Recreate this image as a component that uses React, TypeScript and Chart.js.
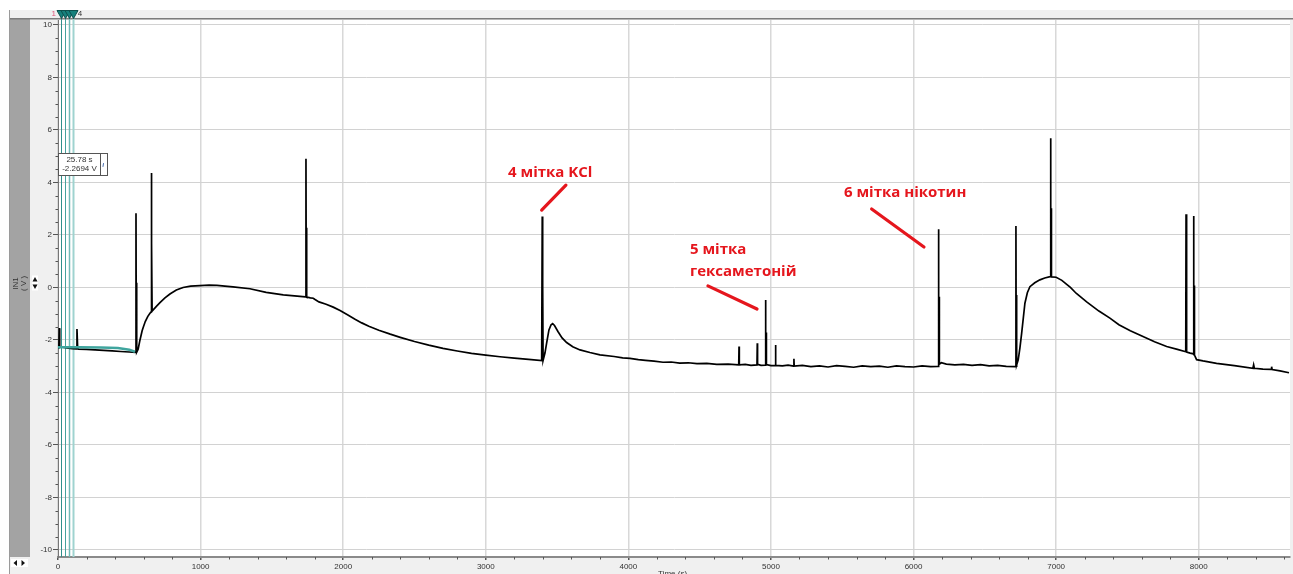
import React, { useEffect, useRef } from "react";
import { Chart, registerables } from "chart.js";

Chart.register(...registerables);

const W = 1293;
const H = 574;

// ---- data: recorded trace, [time (s), voltage (V)] ----
const trace: [number, number][] = [
  [0, -2.3], [6, -2.29], [9, -1.55], [12, -2.28], [26, -2.27], [60, -2.3], [100, -2.33], [128, -2.34],
  [133, -1.58], [138, -2.33], [145, -2.35], [200, -2.36], [260, -2.38], [320, -2.4], [380, -2.42],
  [440, -2.44], [500, -2.46], [545, -2.47],
  [547, 2.83], [549, -2.46], [551, 0.18], [553, -2.46],
  [562, -2.35], [575, -2.0], [590, -1.65], [598, -1.52], [612, -1.3], [630, -1.1], [645, -0.98], [653, -0.93],
  [654, 4.36], [656, -0.92], [658, 1.69], [660, -0.9],
  [690, -0.72], [715, -0.58], [750, -0.4], [785, -0.25], [830, -0.1], [877, 0.0], [930, 0.05], [996, 0.07],
  [1060, 0.09], [1115, 0.08], [1170, 0.05], [1227, 0.02], [1346, -0.05], [1460, -0.19], [1580, -0.28],
  [1697, -0.34], [1735, -0.36],
  [1739, 4.9], [1741, -0.36], [1743, 2.27], [1745, -0.37],
  [1770, -0.4], [1790, -0.41], [1800, -0.45], [1830, -0.55], [1880, -0.64], [1930, -0.75], [1978, -0.88],
  [2030, -1.04], [2080, -1.2], [2130, -1.35], [2180, -1.48], [2250, -1.63], [2330, -1.78], [2400, -1.9],
  [2500, -2.06], [2600, -2.2], [2700, -2.32], [2800, -2.42], [2900, -2.51], [3000, -2.58], [3100, -2.64],
  [3200, -2.69], [3300, -2.74], [3392, -2.79],
  [3396, 2.7], [3398, -2.78], [3400, 0.1], [3402, -2.78],
  [3415, -2.5], [3427, -2.11], [3443, -1.62], [3458, -1.42], [3469, -1.38], [3482, -1.45], [3506, -1.68],
  [3535, -1.92], [3567, -2.1], [3610, -2.26], [3661, -2.38], [3730, -2.48], [3801, -2.57], [3900, -2.63],
  [3960, -2.68], [4011, -2.7], [4070, -2.75], [4120, -2.78], [4180, -2.81], [4243, -2.85], [4300, -2.84],
  [4360, -2.88], [4420, -2.87], [4481, -2.9], [4550, -2.89], [4620, -2.93], [4700, -2.92], [4774, -2.95],
  [4776, -2.25], [4778, -2.95], [4820, -2.93], [4860, -2.97], [4902, -2.95],
  [4904, -2.13], [4906, -2.93], [4930, -2.97], [4960, -2.96],
  [4962, -0.48], [4964, -2.96], [4966, -1.72], [4968, -2.94], [5000, -2.98], [5030, -2.97],
  [5032, -2.19], [5034, -2.97], [5080, -2.99], [5120, -2.96], [5159, -3.0],
  [5161, -2.72], [5163, -3.0],
  [5220, -2.97], [5280, -3.02], [5340, -2.99], [5400, -3.03], [5460, -2.98], [5520, -3.01], [5580, -3.04],
  [5640, -2.99], [5700, -3.02], [5760, -3.0], [5820, -3.04], [5880, -2.99], [5940, -3.02], [6000, -3.03],
  [6060, -2.99], [6120, -3.02], [6172, -3.01],
  [6175, 2.22], [6177, -2.98], [6179, -0.35], [6181, -2.92],
  [6195, -2.87], [6230, -2.92], [6290, -2.95], [6350, -2.93], [6410, -2.97], [6470, -2.94], [6530, -2.99],
  [6590, -2.97], [6650, -3.01], [6714, -3.02],
  [6718, 2.34], [6720, -3.0], [6722, -0.29], [6724, -2.95],
  [6734, -2.76], [6746, -2.3], [6758, -1.75], [6770, -1.15], [6781, -0.6], [6798, -0.2], [6816, 0.03],
  [6850, 0.18], [6886, 0.29], [6920, 0.36], [6957, 0.41],
  [6961, 5.68], [6963, 0.41], [6965, 3.02], [6967, 0.4],
  [7000, 0.39], [7040, 0.27], [7074, 0.12], [7100, 0.0], [7140, -0.22], [7214, -0.55], [7300, -0.9],
  [7377, -1.17], [7440, -1.42], [7520, -1.65], [7609, -1.87], [7690, -2.07], [7775, -2.25], [7850, -2.36],
  [7909, -2.45],
  [7911, 2.79], [7913, -2.45], [7915, 0.16], [7917, -2.46], [7940, -2.5], [7962, -2.53],
  [7964, 2.72], [7966, -2.55], [7968, 0.07], [7970, -2.58],
  [7985, -2.75], [8030, -2.8], [8125, -2.89], [8250, -2.98], [8380, -3.08], [8385, -2.95], [8390, -3.08],
  [8450, -3.11], [8508, -3.12], [8511, -3.02], [8515, -3.13], [8570, -3.18], [8633, -3.25],
];

// earlier (teal) run, overlapping at the start
const tealTrace: [number, number][] = [
  [0, -2.28], [150, -2.28], [300, -2.29], [420, -2.31], [500, -2.37], [540, -2.45],
];

// cursor markers (s)
const markerTimes = [21, 49, 75, 103];
const markerLabels = ["1", "", "", "4"];

// axis ticks
const xTicks = [0, 1000, 2000, 3000, 4000, 5000, 6000, 7000, 8000];
const yTicks = [-10, -8, -6, -4, -2, 0, 2, 4, 6, 8, 10];
const xMinorStep = 200;
const yMinorStep = 0.5;

// readout
const readoutTime = "25.78 s";
const readoutValue = "-2.2694 V";
const xTitle = "Time (s)";
const yTitle = ["IN1", "( V )"];

// annotations (data coordinates)
const annotations = [
  { lines: ["4 мітка KCl"], textT: 3156, textV: 4.36, from: [3392, 2.95], to: [3562, 3.9] },
  { lines: ["5 мітка", "гексаметоній"], textT: 4432, textV: 1.43, from: [4558, 0.06], to: [4902, -0.82] },
  { lines: ["6 мітка нікотин"], textT: 5512, textV: 3.61, from: [5706, 2.99], to: [6073, 1.54] },
];

const X_MIN = 0;
const X_MAX = 8640;
const Y_MIN = -10.27;
const Y_MAX = 10.19;

const markerLineColors = ["#2f8f8a", "#45a29d", "#6fbab6", "#9fd3d0"];
const markerLineWidths = [1, 1, 1.5, 2];
const RED = "#e5161d";
const TICK_FONT = '8px "Liberation Sans", Arial, sans-serif';

const panelPlugin = {
  id: "panels",
  beforeDraw(chart: any) {
    const { ctx, chartArea: ca } = chart;
    ctx.save();
    ctx.fillStyle = "#ffffff";
    ctx.fillRect(0, 0, W, H);
    ctx.fillStyle = "#f0f0f0";
    ctx.fillRect(10, 10, ca.left - 10, H - 10);
    ctx.fillRect(10, 10, W - 10, ca.top - 10);
    ctx.fillRect(ca.right, 10, W - ca.right, H - 10);
    ctx.fillRect(10, ca.bottom, W - 10, H - ca.bottom);
    ctx.fillStyle = "#a3a3a3";
    ctx.fillRect(10, ca.top - 1.5, 20, ca.bottom - ca.top + 1.5);
    ctx.fillStyle = "#7c7c7c";
    ctx.fillRect(10, ca.top - 2, W - 10, 1.5);
    ctx.fillStyle = "#9a9a9a";
    ctx.fillRect(9, 10, 1, H - 10);
    ctx.fillStyle = "#ffffff";
    ctx.fillRect(ca.left, ca.top, ca.right - ca.left, ca.bottom - ca.top);
    ctx.restore();
  },
  beforeDatasetsDraw(chart: any) {
    const { ctx, chartArea: ca, scales } = chart;
    const xs = scales.x;
    ctx.save();
    markerTimes.forEach((t, i) => {
      const px = Math.round(xs.getPixelForValue(t)) + 0.5;
      ctx.strokeStyle = markerLineColors[i];
      ctx.lineWidth = markerLineWidths[i];
      ctx.beginPath();
      ctx.moveTo(px, ca.top - 1);
      ctx.lineTo(px, ca.bottom);
      ctx.stroke();
    });
    ctx.restore();
  },
  afterDatasetsDraw(chart: any) {
    const { ctx, chartArea: ca, scales } = chart;
    const xs = scales.x;
    const ys = scales.y;
    ctx.save();
    annotations.forEach((a) => {
      ctx.strokeStyle = RED;
      ctx.lineWidth = 3.2;
      ctx.lineCap = "round";
      ctx.beginPath();
      ctx.moveTo(xs.getPixelForValue(a.from[0]), ys.getPixelForValue(a.from[1]));
      ctx.lineTo(xs.getPixelForValue(a.to[0]), ys.getPixelForValue(a.to[1]));
      ctx.stroke();
      ctx.fillStyle = RED;
      ctx.font = 'bold 15px "Open Sans", sans-serif';
      ctx.textAlign = "left";
      ctx.textBaseline = "middle";
      a.lines.forEach((s, i) => {
        ctx.fillText(s, xs.getPixelForValue(a.textT), ys.getPixelForValue(a.textV) + i * 21.7);
      });
    });
    const bx = ca.left + 0.5;
    const by = ca.top + 133.5;
    ctx.fillStyle = "#ffffff";
    ctx.fillRect(bx, by, 49, 22);
    ctx.strokeStyle = "#555";
    ctx.lineWidth = 1;
    ctx.strokeRect(bx, by, 49, 22);
    ctx.beginPath();
    ctx.moveTo(bx + 42, by);
    ctx.lineTo(bx + 42, by + 22);
    ctx.stroke();
    ctx.strokeStyle = "#4a6fb0";
    ctx.beginPath();
    ctx.moveTo(bx + 45, by + 10);
    ctx.lineTo(bx + 44.5, by + 13);
    ctx.stroke();
    ctx.fillStyle = "#333";
    ctx.font = TICK_FONT;
    ctx.textAlign = "center";
    ctx.textBaseline = "middle";
    ctx.fillText(readoutTime, bx + 21, by + 6.5);
    ctx.fillText(readoutValue, bx + 21, by + 15.5);
    ctx.restore();
  },
  afterDraw(chart: any) {
    const { ctx, chartArea: ca, scales } = chart;
    const xs = scales.x;
    const ys = scales.y;
    ctx.save();
    ctx.strokeStyle = "#555";
    ctx.lineWidth = 1;
    for (let v = -10; v <= 10.001; v += yMinorStep) {
      if (Math.abs(v % 2) < 1e-6) continue;
      const py = Math.round(ys.getPixelForValue(v)) + 0.5;
      ctx.beginPath();
      ctx.moveTo(ca.left - 2.5, py);
      ctx.lineTo(ca.left, py);
      ctx.stroke();
    }
    for (let t = 0; t <= X_MAX; t += xMinorStep) {
      if (t % 1000 === 0) continue;
      const px = Math.round(xs.getPixelForValue(t)) + 0.5;
      ctx.beginPath();
      ctx.moveTo(px, ca.bottom);
      ctx.lineTo(px, ca.bottom + 2.5);
      ctx.stroke();
    }
    markerTimes.forEach((t) => {
      const px = Math.round(xs.getPixelForValue(t)) + 0.5;
      ctx.fillStyle = "#17807c";
      ctx.strokeStyle = "#0d4f4c";
      ctx.beginPath();
      ctx.moveTo(px - 4.5, 10.5);
      ctx.lineTo(px + 4.5, 10.5);
      ctx.lineTo(px, 18.5);
      ctx.closePath();
      ctx.fill();
      ctx.stroke();
    });
    ctx.font = TICK_FONT;
    ctx.textBaseline = "middle";
    ctx.textAlign = "right";
    ctx.fillStyle = "#e0557a";
    const first = xs.getPixelForValue(markerTimes[0]);
    const last = xs.getPixelForValue(markerTimes[markerTimes.length - 1]);
    ctx.fillText(markerLabels[0], first - 5, 14);
    ctx.textAlign = "left";
    ctx.fillStyle = "#333";
    ctx.fillText(markerLabels[markerLabels.length - 1], last + 5, 14);

    const midY = (ys.getPixelForValue(0) as number) - 4;
    ctx.save();
    ctx.translate(16, midY);
    ctx.rotate(-Math.PI / 2);
    ctx.textAlign = "center";
    ctx.fillStyle = "#333";
    ctx.font = TICK_FONT;
    ctx.fillText(yTitle[0], 0, 0);
    ctx.fillText(yTitle[1], 0, 8);
    ctx.restore();
    ctx.fillStyle = "#ffffff";
    ctx.fillRect(32, midY - 8, 6, 15);
    ctx.fillStyle = "#111";
    ctx.beginPath();
    ctx.moveTo(32.5, midY - 2);
    ctx.lineTo(37.5, midY - 2);
    ctx.lineTo(35, midY - 6.5);
    ctx.closePath();
    ctx.fill();
    ctx.beginPath();
    ctx.moveTo(32.5, midY + 1);
    ctx.lineTo(37.5, midY + 1);
    ctx.lineTo(35, midY + 5.5);
    ctx.closePath();
    ctx.fill();
    ctx.fillStyle = "#ffffff";
    ctx.fillRect(11, ca.bottom + 2, 17, 8);
    ctx.fillStyle = "#111";
    ctx.beginPath();
    ctx.moveTo(17, ca.bottom + 3);
    ctx.lineTo(17, ca.bottom + 9);
    ctx.lineTo(13.5, ca.bottom + 6);
    ctx.closePath();
    ctx.fill();
    ctx.beginPath();
    ctx.moveTo(21.5, ca.bottom + 3);
    ctx.lineTo(21.5, ca.bottom + 9);
    ctx.lineTo(25, ca.bottom + 6);
    ctx.closePath();
    ctx.fill();
    ctx.fillStyle = "#333";
    ctx.font = TICK_FONT;
    ctx.textAlign = "center";
    ctx.textBaseline = "top";
    ctx.fillText(xTitle, xs.getPixelForValue(4310), ca.bottom + 13);
    ctx.restore();
  },
};

export default function App() {
  const ref = useRef<HTMLCanvasElement | null>(null);

  useEffect(() => {
    const canvas = ref.current;
    if (!canvas) return;
    const chart = new Chart(canvas, {
      type: "scatter",
      data: {
        datasets: [
          {
            data: tealTrace.map(([x, y]) => ({ x, y })),
            showLine: true,
            borderColor: "#3fa59e",
            borderWidth: 2.5,
            pointRadius: 0,
            order: 0,
          },
          {
            data: trace.map(([x, y]) => ({ x, y })),
            showLine: true,
            borderColor: "#000000",
            borderWidth: 1.7,
            pointRadius: 0,
            order: 1,
          },
        ],
      },
      options: {
        responsive: false,
        animation: false,
        devicePixelRatio: 1,
        events: [],
        layout: { padding: { left: 10, top: 20, right: 3, bottom: 0 } },
        plugins: { legend: { display: false }, tooltip: { enabled: false } },
        scales: {
          x: {
            type: "linear",
            min: X_MIN,
            max: X_MAX,
            afterBuildTicks: (s: any) => {
              s.ticks = xTicks.map((v) => ({ value: v }));
            },
            afterFit: (s: any) => {
              s.height = H - 557;
            },
            grid: { color: "#d8d8d8", lineWidth: 1.5, tickColor: "#555", tickLength: 3 },
            border: { color: "#8a8a8a", width: 2 },
            ticks: {
              autoSkip: false,
              maxRotation: 0,
              padding: 2,
              color: "#333",
              font: { family: '"Liberation Sans", Arial, sans-serif', size: 8 },
              callback: (v: any) => String(v),
            },
          },
          y: {
            type: "linear",
            min: Y_MIN,
            max: Y_MAX,
            afterBuildTicks: (s: any) => {
              s.ticks = yTicks.map((v) => ({ value: v }));
            },
            afterFit: (s: any) => {
              s.width = 48;
            },
            grid: { color: "#d2d2d2", lineWidth: 1, tickColor: "#555", tickLength: 5 },
            border: { color: "#777", width: 1 },
            ticks: {
              autoSkip: false,
              padding: 1,
              color: "#333",
              font: { family: '"Liberation Sans", Arial, sans-serif', size: 8 },
              callback: (v: any) => String(v),
            },
          },
        },
      },
      plugins: [panelPlugin],
    } as any);
    return () => chart.destroy();
  }, []);

  return (
    <div style={{ position: "absolute", left: 0, top: 0, width: W, height: H, background: "#fff" }}>
      <canvas ref={ref} width={W} height={H} style={{ display: "block", width: W, height: H }} />
    </div>
  );
}
